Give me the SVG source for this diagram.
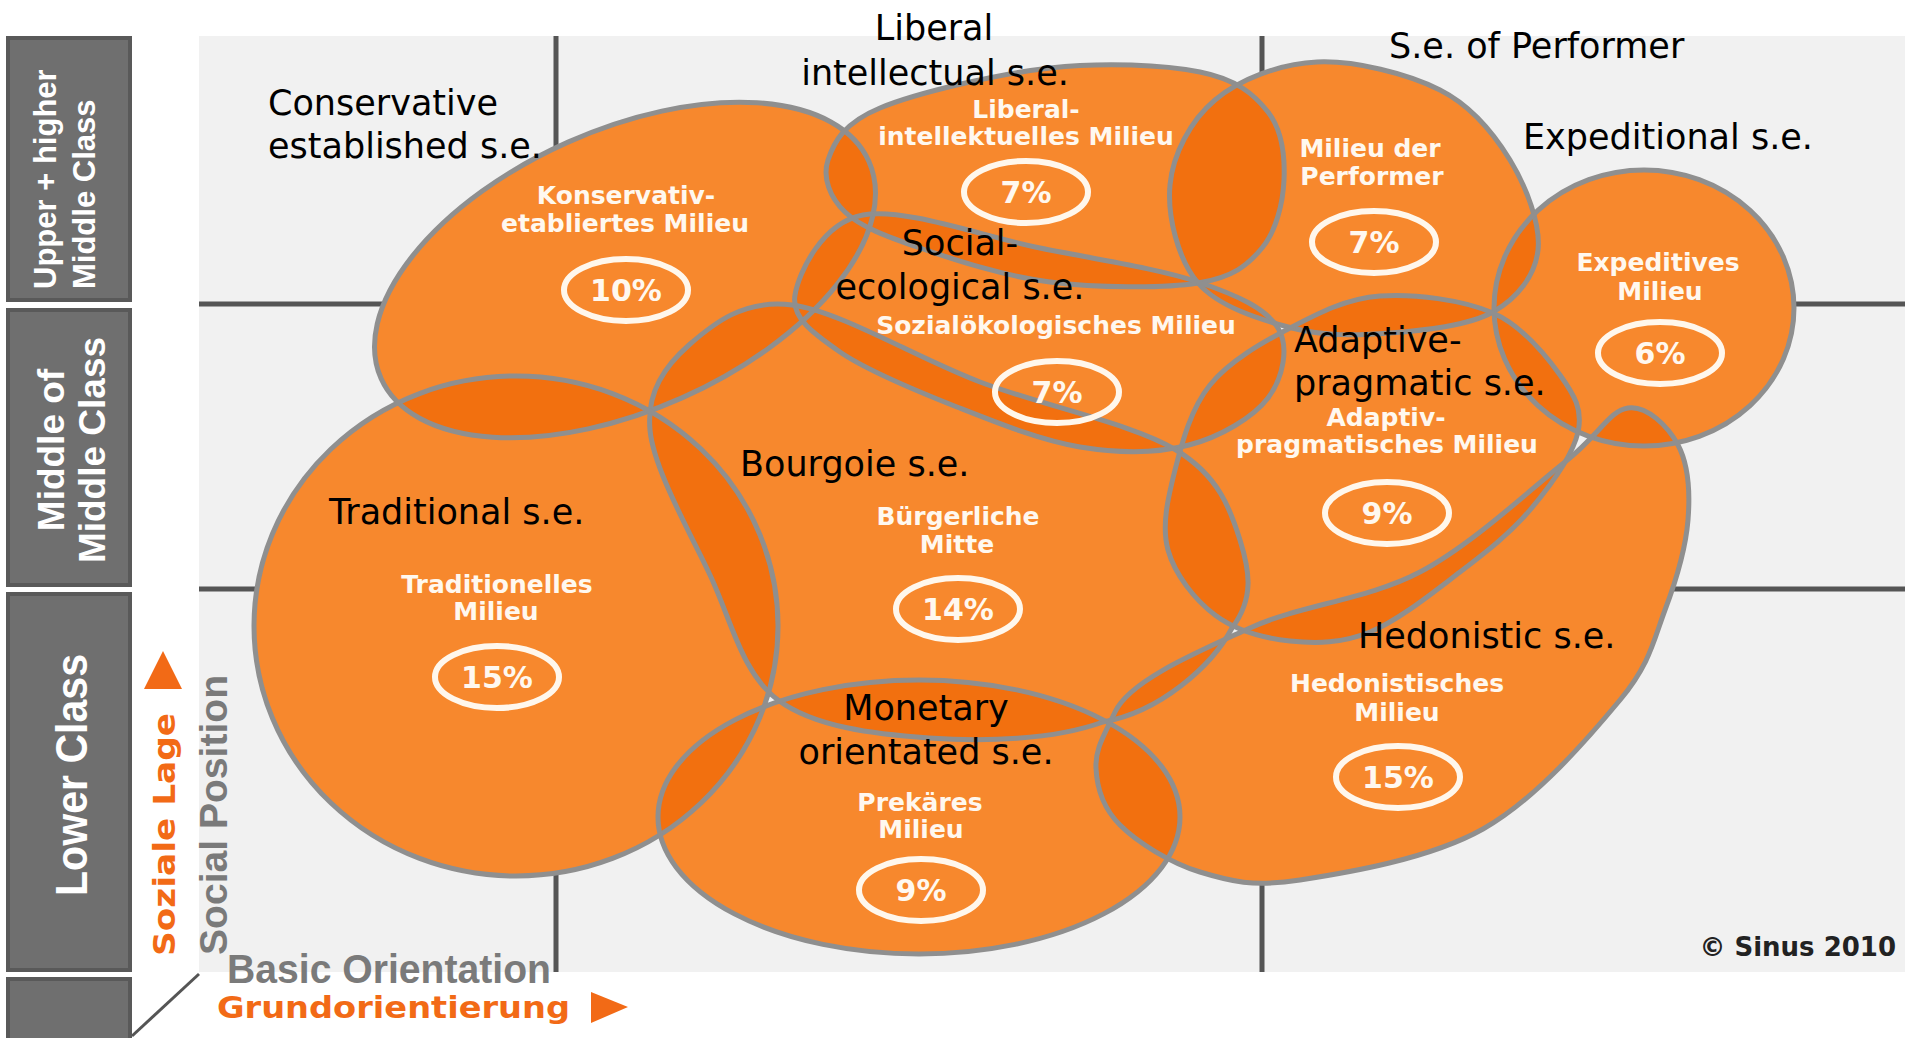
<svg xmlns="http://www.w3.org/2000/svg" width="1911" height="1038" viewBox="0 0 1911 1038">
<style>
.blob{fill:#f7882d}
.ov{fill:#f2700f}
.ol{fill:none;stroke:#8f8f8f;stroke-width:5}
.grid{stroke:#555;stroke-width:5}
.badge{fill:none;stroke:#fff7ec;stroke-width:6}
.mil{font-family:"DejaVu Sans",sans-serif;font-weight:bold;font-size:25px;fill:#fff8ef;text-anchor:middle}
.pct{font-family:"DejaVu Sans",sans-serif;font-weight:bold;font-size:30px;fill:#fff8ef;text-anchor:middle}
.en{font-family:"DejaVu Sans",sans-serif;font-size:35px;fill:#000}
.mid{text-anchor:middle}
.bar{fill:#6f6f6f;stroke:#595959;stroke-width:4}
.bartxt{font-family:"Liberation Sans",Arial,sans-serif;font-weight:bold;fill:#fff}
.orange{fill:#f26a16}
.grey{fill:#7a7a7a}
</style>
<defs>
<ellipse id="s-kon" cx="625" cy="270" rx="267" ry="140" transform="rotate(-24 625 270)"/>
<path id="s-lib" d="M 1050 68 C 1103.3 62 1163.7 64.7 1200 72 C 1236.3 79.3 1254 94 1268 112 C 1282 130 1285 157.3 1284 180 C 1283 202.7 1276.3 230.8 1262 248 C 1247.7 265.2 1233.3 277.3 1198 283 C 1162.7 288.7 1096.3 287.8 1050 282 C 1003.7 276.2 954.2 259.7 920 248 C 885.8 236.3 860.3 226.7 845 212 C 829.7 197.3 822.2 177.3 828 160 C 833.8 142.7 843 123.3 880 108 C 917 92.7 996.7 74 1050 68 Z"/>
<path id="s-per" d="M 1317 62 C 1354.5 60.3 1407.8 73.7 1440 90 C 1472.2 106.3 1493.7 133.3 1510 160 C 1526.3 186.7 1540.8 224.7 1538 250 C 1535.2 275.3 1517.7 298.2 1493 312 C 1468.3 325.8 1423.5 330.3 1390 333 C 1356.5 335.7 1324 336.3 1292 328 C 1260 319.7 1218.3 306.8 1198 283 C 1177.7 259.2 1167.2 215.5 1170 185 C 1172.8 154.5 1190.5 120.5 1215 100 C 1239.5 79.5 1279.5 63.7 1317 62 Z"/>
<ellipse id="s-exp" cx="1644" cy="308" rx="150" ry="138"/>
<path id="s-soz" d="M 863 215 C 903.8 207.2 984.2 236.8 1040 248 C 1095.8 259.2 1158.3 268.7 1198 282 C 1237.7 295.3 1266.3 308.7 1278 328 C 1289.7 347.3 1282.8 378.5 1268 398 C 1253.2 417.5 1220.3 436.8 1189 445 C 1157.7 453.2 1118.7 453.3 1080 447 C 1041.3 440.7 997 422.8 957 407 C 917 391.2 867 370.7 840 352 C 813 333.3 791.2 317.8 795 295 C 798.8 272.2 822.2 222.8 863 215 Z"/>
<path id="s-bue" d="M 792 305 C 840.5 311.2 916 357.8 980 382 C 1044 406.2 1132.7 423.7 1176 450 C 1219.3 476.3 1230.7 510.3 1240 540 C 1249.3 569.7 1254.8 597.7 1232 628 C 1212 666 1160 712 1103 722 C 1052.5 740.3 983.2 741.7 929 738 C 874.8 734.3 814.5 727.2 778 700 C 741.5 672.8 731.3 620 710 575 C 688.7 530 653.5 468.3 650 430 C 646.5 391.7 665.3 365.8 689 345 C 712.7 324.2 743.5 298.8 792 305 Z"/>
<path id="s-ada" d="M 1380 296 C 1413.8 293.5 1463 299.8 1493 313 C 1523 326.2 1545.8 355.2 1560 375 C 1574.2 394.8 1583 409.5 1578 432 C 1573 454.5 1549.7 486.7 1530 510 C 1510.3 533.3 1486.7 551.7 1460 572 C 1433.3 592.3 1398.3 620.5 1370 632 C 1341.7 643.5 1315.8 643.8 1290 641 C 1264.2 638.2 1235.3 630.2 1215 615 C 1194.7 599.8 1174.7 574.2 1168 550 C 1161.3 525.8 1168 497.5 1175 470 C 1182 442.5 1190.8 408.7 1210 385 C 1229.2 361.3 1261.7 342.8 1290 328 C 1318.3 313.2 1346.2 298.5 1380 296 Z"/>
<ellipse id="s-tra" cx="516" cy="626" rx="262" ry="250"/>
<ellipse id="s-pre" cx="919" cy="817" rx="261" ry="137"/>
<path id="s-hed" d="M 1628 408 C 1646.8 405.2 1668 426.3 1678 445 C 1688 463.7 1690.2 492.5 1688 520 C 1685.8 547.5 1676.3 580 1665 610 C 1653.7 640 1650.3 663.5 1620 700 C 1589.7 736.5 1536.3 799 1483 829 C 1429.7 859 1347.2 872.8 1300 880 C 1252.8 887.2 1230 881.2 1200 872 C 1170 862.8 1137.3 842.3 1120 825 C 1102.7 807.7 1096.8 786.8 1096 768 C 1095.2 749.2 1103 737.6 1115 712 C 1130 680 1199.2 651.3 1250 628 C 1300.8 604.7 1367.5 599.7 1420 572 C 1472.5 544.3 1530.3 489.3 1565 462 C 1599.7 434.7 1609.2 410.8 1628 408 Z"/>
<clipPath id="c-kon"><use href="#s-kon"/></clipPath>
<clipPath id="c-lib"><use href="#s-lib"/></clipPath>
<clipPath id="c-per"><use href="#s-per"/></clipPath>
<clipPath id="c-exp"><use href="#s-exp"/></clipPath>
<clipPath id="c-soz"><use href="#s-soz"/></clipPath>
<clipPath id="c-bue"><use href="#s-bue"/></clipPath>
<clipPath id="c-ada"><use href="#s-ada"/></clipPath>
<clipPath id="c-tra"><use href="#s-tra"/></clipPath>
<clipPath id="c-pre"><use href="#s-pre"/></clipPath>
<clipPath id="c-hed"><use href="#s-hed"/></clipPath>
</defs>

<rect width="1911" height="1038" fill="#ffffff"/>
<rect x="199" y="36" width="1706" height="936" fill="#f1f1f1"/>

<g id="grid">
<line class="grid" x1="556" y1="36" x2="556" y2="972"/>
<line class="grid" x1="1262" y1="36" x2="1262" y2="972"/>
<line class="grid" x1="199" y1="304" x2="1905" y2="304"/>
<line class="grid" x1="199" y1="589" x2="1905" y2="589"/>
</g>

<g id="fills">
<use href="#s-kon" class="blob"/>
<use href="#s-lib" class="blob"/>
<use href="#s-per" class="blob"/>
<use href="#s-exp" class="blob"/>
<use href="#s-soz" class="blob"/>
<use href="#s-bue" class="blob"/>
<use href="#s-ada" class="blob"/>
<use href="#s-tra" class="blob"/>
<use href="#s-pre" class="blob"/>
<use href="#s-hed" class="blob"/>
</g>

<g id="overlaps">
<use href="#s-kon" class="ov" clip-path="url(#c-lib)"/>
<use href="#s-kon" class="ov" clip-path="url(#c-soz)"/>
<use href="#s-kon" class="ov" clip-path="url(#c-bue)"/>
<use href="#s-kon" class="ov" clip-path="url(#c-tra)"/>
<use href="#s-lib" class="ov" clip-path="url(#c-soz)"/>
<use href="#s-lib" class="ov" clip-path="url(#c-per)"/>
<use href="#s-per" class="ov" clip-path="url(#c-soz)"/>
<use href="#s-per" class="ov" clip-path="url(#c-ada)"/>
<use href="#s-per" class="ov" clip-path="url(#c-exp)"/>
<use href="#s-exp" class="ov" clip-path="url(#c-ada)"/>
<use href="#s-exp" class="ov" clip-path="url(#c-hed)"/>
<use href="#s-soz" class="ov" clip-path="url(#c-bue)"/>
<use href="#s-soz" class="ov" clip-path="url(#c-ada)"/>
<use href="#s-bue" class="ov" clip-path="url(#c-tra)"/>
<use href="#s-bue" class="ov" clip-path="url(#c-ada)"/>
<use href="#s-bue" class="ov" clip-path="url(#c-pre)"/>
<use href="#s-bue" class="ov" clip-path="url(#c-hed)"/>
<use href="#s-ada" class="ov" clip-path="url(#c-hed)"/>
<use href="#s-tra" class="ov" clip-path="url(#c-pre)"/>
<use href="#s-pre" class="ov" clip-path="url(#c-hed)"/>
</g>

<g id="outlines">
<use href="#s-kon" class="ol"/>
<use href="#s-lib" class="ol"/>
<use href="#s-per" class="ol"/>
<use href="#s-exp" class="ol"/>
<use href="#s-soz" class="ol"/>
<use href="#s-bue" class="ol"/>
<use href="#s-ada" class="ol"/>
<use href="#s-tra" class="ol"/>
<use href="#s-pre" class="ol"/>
<use href="#s-hed" class="ol"/>
</g>

<g id="node-konservativ">
<text class="mil" x="626" y="204">Konservativ-</text>
<text class="mil" x="625" y="232">etabliertes Milieu</text>
<ellipse class="badge" cx="626" cy="290" rx="62" ry="31"/>
<text class="pct" x="626" y="301">10%</text>
</g>
<g id="node-liberal">
<text class="mil" x="1026" y="118">Liberal-</text>
<text class="mil" x="1026" y="145">intellektuelles Milieu</text>
<ellipse class="badge" cx="1026" cy="192" rx="62" ry="31"/>
<text class="pct" x="1026" y="203">7%</text>
</g>
<g id="node-performer">
<text class="mil" x="1370" y="157">Milieu der</text>
<text class="mil" x="1372" y="185">Performer</text>
<ellipse class="badge" cx="1374" cy="242" rx="62" ry="31"/>
<text class="pct" x="1374" y="253">7%</text>
</g>
<g id="node-expeditiv">
<text class="mil" x="1658" y="271">Expeditives</text>
<text class="mil" x="1660" y="300">Milieu</text>
<ellipse class="badge" cx="1660" cy="353" rx="62" ry="31"/>
<text class="pct" x="1660" y="364">6%</text>
</g>
<g id="node-sozialoekologisch">
<text class="mil" x="1056" y="334">Sozialökologisches Milieu</text>
<ellipse class="badge" cx="1057" cy="392" rx="62" ry="31"/>
<text class="pct" x="1057" y="403">7%</text>
</g>
<g id="node-adaptiv">
<text class="mil" x="1386" y="426">Adaptiv-</text>
<text class="mil" x="1387" y="453">pragmatisches Milieu</text>
<ellipse class="badge" cx="1387" cy="513" rx="62" ry="31"/>
<text class="pct" x="1387" y="524">9%</text>
</g>
<g id="node-buergerlich">
<text class="mil" x="958" y="525">Bürgerliche</text>
<text class="mil" x="957" y="553">Mitte</text>
<ellipse class="badge" cx="958" cy="609" rx="62" ry="31"/>
<text class="pct" x="958" y="620">14%</text>
</g>
<g id="node-traditionell">
<text class="mil" x="497" y="593">Traditionelles</text>
<text class="mil" x="496" y="620">Milieu</text>
<ellipse class="badge" cx="497" cy="677" rx="62" ry="31"/>
<text class="pct" x="497" y="688">15%</text>
</g>
<g id="node-prekaer">
<text class="mil" x="920" y="811">Prekäres</text>
<text class="mil" x="921" y="838">Milieu</text>
<ellipse class="badge" cx="921" cy="890" rx="62" ry="31"/>
<text class="pct" x="921" y="901">9%</text>
</g>
<g id="node-hedonistisch">
<text class="mil" x="1397" y="692">Hedonistisches</text>
<text class="mil" x="1397" y="721">Milieu</text>
<ellipse class="badge" cx="1398" cy="777" rx="62" ry="31"/>
<text class="pct" x="1398" y="788">15%</text>
</g>

<g id="english-labels">
<text class="en mid" x="934" y="40">Liberal</text>
<text class="en mid" x="935" y="85">intellectual s.e.</text>
<text class="en" x="268" y="115">Conservative</text>
<text class="en" x="268" y="158">established s.e.</text>
<text class="en mid" x="960" y="255">Social-</text>
<text class="en mid" x="960" y="299">ecological s.e.</text>
<text class="en" x="1389" y="58">S.e. of Performer</text>
<text class="en" x="1523" y="149" textLength="290">Expeditional s.e.</text>
<text class="en" x="1294" y="352">Adaptive-</text>
<text class="en" x="1294" y="395">pragmatic s.e.</text>
<text class="en" x="740" y="476">Bourgoie s.e.</text>
<text class="en" x="329" y="524">Traditional s.e.</text>
<text class="en mid" x="926" y="720">Monetary</text>
<text class="en mid" x="926" y="764">orientated s.e.</text>
<text class="en" x="1358" y="648">Hedonistic s.e.</text>
</g>

<g id="axes">
<polygon class="orange" points="144,689 163,651 182,689"/>
<text class="orange" transform="translate(175,956) rotate(-90)" font-family="DejaVu Sans, sans-serif" font-weight="bold" font-size="30" textLength="243" lengthAdjust="spacingAndGlyphs">Soziale Lage</text>
<text class="grey" transform="translate(227,955) rotate(-90)" font-family="Liberation Sans, Arial, sans-serif" font-weight="bold" font-size="39" textLength="280" lengthAdjust="spacingAndGlyphs">Social Position</text>
<text class="grey" x="227" y="983" font-family="Liberation Sans, Arial, sans-serif" font-weight="bold" font-size="41" textLength="324" lengthAdjust="spacingAndGlyphs">Basic Orientation</text>
<text class="orange" x="217" y="1018" font-family="DejaVu Sans, sans-serif" font-weight="bold" font-size="31" textLength="353" lengthAdjust="spacingAndGlyphs">Grundorientierung</text>
<polygon class="orange" points="591,992 628,1007 591,1023"/>
<line x1="132" y1="1036" x2="199" y2="974" stroke="#555" stroke-width="3"/>
<text x="1896" y="956" text-anchor="end" font-family="DejaVu Sans, sans-serif" font-weight="bold" font-size="26" fill="#222">© Sinus 2010</text>
</g>

<g id="class-bar">
<rect class="bar" x="8" y="38" width="122" height="262"/>
<rect class="bar" x="8" y="310" width="122" height="275"/>
<rect class="bar" x="8" y="594" width="122" height="376"/>
<rect class="bar" x="8" y="979" width="122" height="70"/>
<text class="bartxt" transform="translate(56,289) rotate(-90)" font-size="31">Upper + higher</text>
<text class="bartxt" transform="translate(95,289) rotate(-90)" font-size="31">Middle Class</text>
<text class="bartxt" transform="translate(64,450) rotate(-90)" font-size="37" text-anchor="middle">Middle of</text>
<text class="bartxt" transform="translate(105,450) rotate(-90)" font-size="37" text-anchor="middle">Middle Class</text>
<text class="bartxt" transform="translate(87,775) rotate(-90)" font-size="44" text-anchor="middle" textLength="242" lengthAdjust="spacingAndGlyphs">Lower Class</text>
</g>
</svg>
